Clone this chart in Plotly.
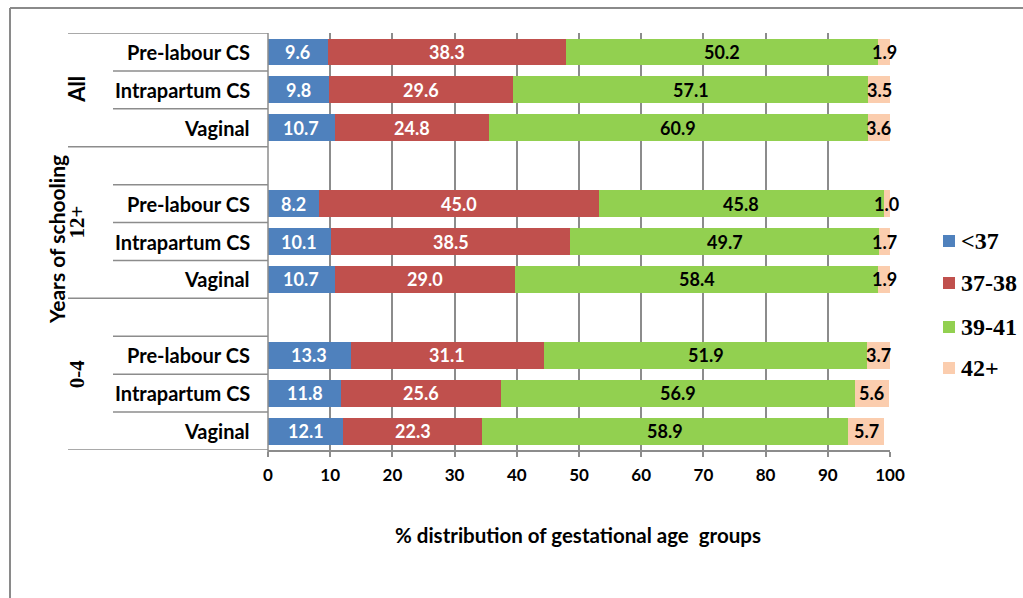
import plotly.graph_objects as go

# Rows from top to bottom: schooling group x mode of delivery
groups = ["All", "12+", "0-4"]
modes = ["Pre-labour CS", "Intrapartum CS", "Vaginal"]

# % distribution of gestational age groups (weeks)
series_names = ["<37", "37-38", "39-41", "42+"]
lt37 = [9.6, 9.8, 10.7, 8.2, 10.1, 10.7, 13.3, 11.8, 12.1]
w37_38 = [38.3, 29.6, 24.8, 45.0, 38.5, 29.0, 31.1, 25.6, 22.3]
w39_41 = [50.2, 57.1, 60.9, 45.8, 49.7, 58.4, 51.9, 56.9, 58.9]
w42p = [1.9, 3.5, 3.6, 1.0, 1.7, 1.9, 3.7, 5.6, 5.7]

x_ticks = [0, 10, 20, 30, 40, 50, 60, 70, 80, 90, 100]

colors = ["#4F81BD", "#C0504D", "#92D050", "#FBCDAE"]
text_colors = ["white", "white", "black", "black"]

SANS = "Lato"
SERIF = "Liberation Serif"
GRID = "#8c8c8c"

# Slot positions on the category axis (one empty slot between groups)
n_slots = 11
positions = []
for g in range(len(groups)):
    for m in range(len(modes)):
        positions.append(n_slots - 1 - (4 * g + m))

# Plot area in pixels
W, H = 1023, 598
L, R, T, B = 268, 890, 33, 450


def px_x(p):
    return (p - L) / (R - L)


def px_y(p):
    return (B - p) / (B - T)


fig = go.Figure()
annotations = []
series = [lt37, w37_38, w39_41, w42p]
left = [0.0] * len(positions)
for name, vals, col, tcol in zip(series_names, series, colors, text_colors):
    fig.add_trace(go.Bar(
        name=name, x=vals, y=positions, orientation="h",
        marker=dict(color=col, line=dict(width=0)),
        showlegend=False, hoverinfo="x+name",
    ))
    # value labels centred on each segment
    for i, v in enumerate(vals):
        annotations.append(dict(xref="x", yref="y", x=left[i] + v / 2, y=positions[i],
                                text=f"<b>{v:.1f}</b>", showarrow=False,
                                xanchor="center", yanchor="middle",
                                font=dict(family=SANS, size=18, color=tcol)))
        left[i] += v

shapes = []
# outer frame (top and left edges)
shapes.append(dict(type="line", xref="paper", yref="paper", x0=px_x(10), x1=px_x(1023),
                   y0=px_y(8), y1=px_y(8), line=dict(color="#8a8a8a", width=2)))
shapes.append(dict(type="line", xref="paper", yref="paper", x0=px_x(10), x1=px_x(10),
                   y0=px_y(8), y1=px_y(598), line=dict(color="#8a8a8a", width=2)))
# category axis line
shapes.append(dict(type="line", xref="paper", yref="paper", x0=0, x1=0,
                   y0=1, y1=px_y(455), line=dict(color=GRID, width=1.5)))

# separators in the multi-level category area
long_x0 = px_x(68)
short_x0 = px_x(113)
top = n_slots - 0.5
group_edges = [top, top - 3, top - 7, top - 11]
for b in range(n_slots + 1):
    yb = top - b
    x0 = long_x0 if yb in group_edges else short_x0
    shapes.append(dict(type="line", xref="paper", yref="y", x0=x0, x1=0,
                       y0=yb, y1=yb, line=dict(color=GRID, width=1.5)))

# mode-of-delivery labels
for i, pos in enumerate(positions):
    annotations.append(dict(xref="paper", yref="y", x=px_x(252), y=pos,
                            text=f"<b>{modes[i % 3]}</b>", showarrow=False,
                            xanchor="right", yanchor="middle",
                            font=dict(family=SANS, size=20, color="black")))
# group labels (rotated)
for gi, g in enumerate(groups):
    yc = (group_edges[gi] + group_edges[gi + 1]) / 2
    annotations.append(dict(xref="paper", yref="y", x=px_x(77), y=yc,
                            text=f"<b>{g}</b>", showarrow=False, textangle=-90,
                            xanchor="center", yanchor="middle",
                            font=dict(family=SANS if g == "All" else SERIF,
                                      size=22 if g == "All" else 21, color="black")))
# axis titles
annotations.append(dict(xref="paper", yref="paper", x=px_x(56), y=px_y(240),
                        text="<b>Years of schooling</b>", showarrow=False, textangle=-90,
                        xanchor="center", yanchor="middle",
                        font=dict(family=SANS, size=21, color="black")))
annotations.append(dict(xref="paper", yref="paper", x=px_x(578), y=px_y(535),
                        text="<b>% distribution of gestational age  groups</b>", showarrow=False,
                        xanchor="center", yanchor="middle",
                        font=dict(family=SANS, size=20.5, color="black")))

# legend: colour swatch + label for each series
legend_y = [241, 283, 327, 368]
for name, col, ly in zip(series_names, colors, legend_y):
    shapes.append(dict(type="rect", xref="paper", yref="paper",
                       x0=px_x(943), x1=px_x(955), y0=px_y(ly - 6), y1=px_y(ly + 6),
                       fillcolor=col, line=dict(width=0)))
    annotations.append(dict(xref="paper", yref="paper", x=px_x(959), y=px_y(ly),
                            text=f"<b>{name}</b>", showarrow=False,
                            xanchor="left", yanchor="middle",
                            font=dict(family=SERIF, size=24, color="black")))

fig.update_layout(
    width=W, height=H,
    margin=dict(l=L, r=W - R, t=T, b=H - B, pad=0, autoexpand=False),
    paper_bgcolor="white", plot_bgcolor="white",
    barmode="stack", bargap=0.29,
    showlegend=False,
    xaxis=dict(range=[0, 100], tickvals=x_ticks, ticktext=[f"<b>{v}</b>" for v in x_ticks],
               showgrid=True, gridcolor=GRID, gridwidth=1.5,
               showline=True, linecolor=GRID, linewidth=1.5,
               ticks="outside", ticklen=5, tickcolor=GRID, tickwidth=1.5,
               ticklabelstandoff=4,
               tickfont=dict(family=SANS, size=17, color="black"),
               zeroline=False, fixedrange=True),
    yaxis=dict(range=[-0.5, n_slots - 0.5], showticklabels=False, showgrid=False,
               zeroline=False, showline=False, fixedrange=True),
    shapes=shapes, annotations=annotations,
)

fig.write_html("out.html")
